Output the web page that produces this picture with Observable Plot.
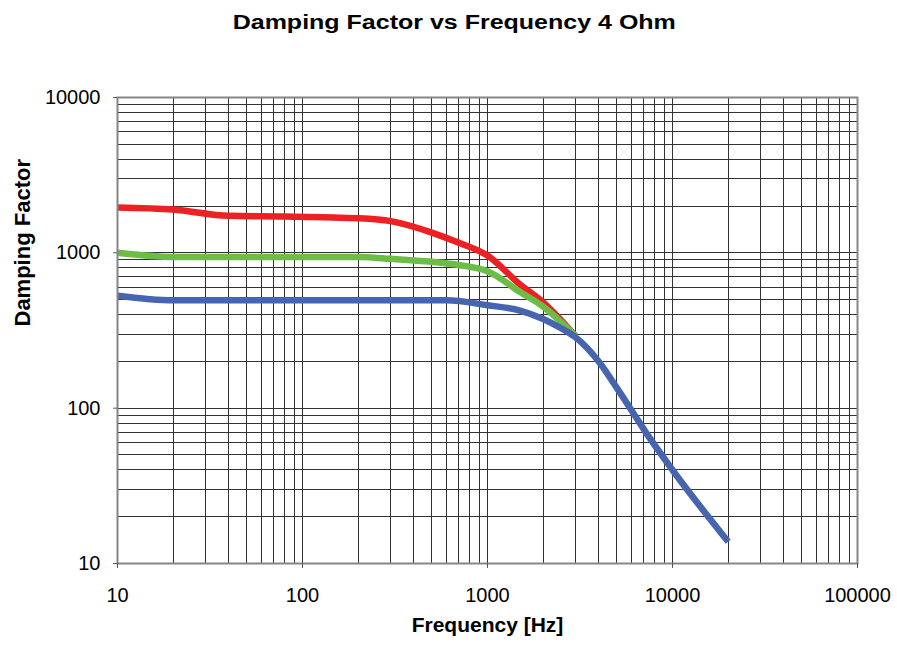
<!DOCTYPE html>
<html><head><meta charset="utf-8">
<script src="https://cdn.jsdelivr.net/npm/d3@7"></script>
<script src="https://cdn.jsdelivr.net/npm/@observablehq/plot@0.6"></script>
<style>
body{margin:0;background:#fff;font-family:"Liberation Sans",Arial,sans-serif;}
#title{width:897px;height:40px;box-sizing:border-box;padding-top:12px;text-align:center;line-height:20px;font-size:20px;font-weight:bold;color:#000;}
#title span{display:inline-block;transform:scaleX(1.25);margin-left:12px;}
</style></head><body>
<div id="title"><span></span></div>
<div id="chart"></div>
<script>
const chartTitle = "Damping Factor vs Frequency 4 Ohm";
const xLabel = "Frequency [Hz]";
const yLabel = "Damping Factor";
const xTickValues = [10, 100, 1000, 10000, 100000];
const yTickValues = [10, 100, 1000, 10000];
const gridMultipliers = [1, 2, 3, 4, 5, 6, 7, 8, 9];

const redFreq = [10, 20, 40, 80, 200, 300, 500, 700, 1000, 1500, 2000, 3000];
const redDF   = [1960, 1900, 1730, 1715, 1670, 1600, 1350, 1160, 960, 625, 480, 290];
const greenFreq = [10, 20, 200, 300, 500, 700, 1000, 1500, 2000, 3000];
const greenDF   = [1000, 940, 940, 915, 875, 835, 760, 560, 450, 290];
const blueFreq = [10, 20, 600, 1000, 1500, 2000, 2500, 3000, 4000, 5000, 6000, 7000, 10000, 20000];
const blueDF   = [530, 495, 495, 460, 425, 375, 327, 285, 199, 135, 97, 73, 40, 13.8];

document.querySelector("#title span").textContent = chartTitle;

const toRows = (fs, vs) => fs.map((f, i) => ({f, v: vs[i]}));
const red = toRows(redFreq, redDF);
const green = toRows(greenFreq, greenDF);
const blue = toRows(blueFreq, blueDF);

const xGrid = xTickValues.slice(0, -1).flatMap(d => gridMultipliers.map(m => d * m)).concat([xTickValues[xTickValues.length - 1]]);
const yGrid = yTickValues.slice(0, -1).flatMap(d => gridMultipliers.map(m => d * m)).concat([yTickValues[yTickValues.length - 1]]);

const lineOpts = {x: "f", y: "v", strokeWidth: 6.5, curve: "monotone-x", strokeLinecap: "butt", strokeLinejoin: "round"};

const chart = Plot.plot({
  width: 897,
  height: 607,
  marginTop: 57,
  marginBottom: 84,
  marginLeft: 117,
  marginRight: 40,
  style: {fontFamily: "'Liberation Sans', Arial, sans-serif", fontSize: "20px", color: "#000", background: "#fff", overflow: "visible"},
  x: {type: "log", domain: [10, 100000]},
  y: {type: "log", domain: [10, 10000]},
  marks: [
    Plot.ruleX(xGrid, {stroke: "#333", strokeWidth: 1, shapeRendering: "crispEdges"}),
    Plot.ruleY(yGrid, {stroke: "#333", strokeWidth: 1, shapeRendering: "crispEdges"}),
    Plot.line(red, {...lineOpts, stroke: "#ED2024"}),
    Plot.line(green, {...lineOpts, stroke: "#6CBD45"}),
    Plot.line(blue, {...lineOpts, stroke: "#4765AE"}),
    Plot.frame({stroke: "#858585", strokeWidth: 2}),
    Plot.axisX(xTickValues, {tickSize: 5, tickPadding: 19, tickFormat: d3.format("d"), fontSize: 20, label: null, stroke: "#555"}),
    Plot.axisY(yTickValues, {tickSize: 4, tickPadding: 13, tickFormat: d3.format("d"), fontSize: 20, label: null, stroke: "#555"}),
    Plot.text([xLabel], {text: d => d, frameAnchor: "bottom", dy: 68, fontWeight: "bold", fontSize: 21, fill: "#000"}),
    Plot.text([yLabel], {text: d => d, frameAnchor: "left", rotate: -90, dx: -95, dy: -4, fontWeight: "bold", fontSize: 22, fill: "#000"})
  ]
});
document.getElementById("chart").appendChild(chart);
</script>
</body></html>
